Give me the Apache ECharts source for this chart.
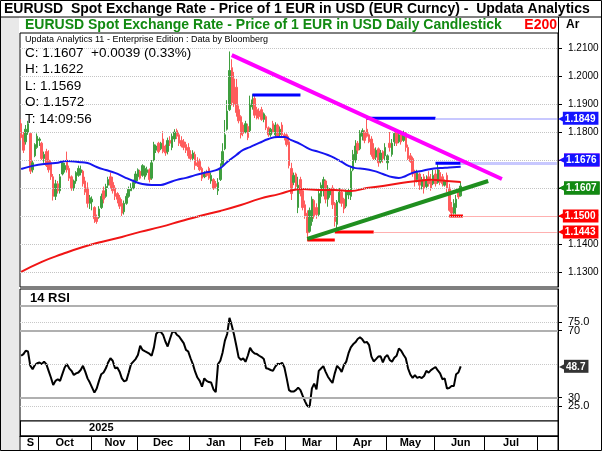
<!DOCTYPE html>
<html>
<head>
<meta charset="utf-8">
<title>EURUSD Daily Candlestick</title>
<script src="https://cdn.jsdelivr.net/npm/echarts@6.0.0/dist/echarts.min.js"></script>
<style>
html, body { margin: 0; padding: 0; background: #fff; }
#main { width: 602px; height: 451px; }
</style>
</head>
<body>
<div id="main"></div>
<script>
// trading days (weekdays) shown on the axis, Sep 19 2025 .. Aug 13 2026
let days = [];
for (let d = new Date(Date.UTC(2025, 8, 19)); d <= new Date(Date.UTC(2026, 7, 13)); d.setUTCDate(d.getUTCDate() + 1)) {
    let wd = d.getUTCDay();
    if (wd !== 0 && wd !== 6) days.push(d.toISOString().slice(0, 10));
}
const monthNames = {
    "2025-09": "S", "2025-10": "Oct", "2025-11": "Nov", "2025-12": "Dec",
    "2026-01": "Jan", "2026-02": "Feb", "2026-03": "Mar", "2026-04": "Apr",
    "2026-05": "May", "2026-06": "Jun", "2026-07": "Jul", "2026-08": ""
};
const yearNames = { "2025": "2025", "2026": "" };

// daily candles [open, close, low, high]
const candles = [
    [1.1830,1.1780,1.1770,1.1845],[1.1790,1.1735,1.1725,1.1800],[1.1765,1.1810,1.1755,1.1825],[1.1800,1.1830,1.1790,1.1840],
    [1.1795,1.1660,1.1650,1.1800],[1.1665,1.1690,1.1655,1.1700],[1.1715,1.1755,1.1710,1.1760],[1.1745,1.1785,1.1740,1.1795],
    [1.1770,1.1775,1.1750,1.1781],[1.1760,1.1705,1.1700,1.1765],[1.1705,1.1720,1.1690,1.1730],[1.1730,1.1680,1.1675,1.1740],
    [1.1700,1.1665,1.1655,1.1735],[1.1690,1.1640,1.1629,1.1700],[1.1640,1.1570,1.1555,1.1650],[1.1570,1.1615,1.1557,1.1629],
    [1.1615,1.1590,1.1580,1.1625],[1.1590,1.1640,1.1580,1.1650],[1.1650,1.1690,1.1645,1.1700],[1.1665,1.1680,1.1655,1.1690],
    [1.1700,1.1665,1.1655,1.1730],[1.1670,1.1635,1.1625,1.1680],[1.1640,1.1600,1.1590,1.1645],[1.1600,1.1625,1.1590,1.1630],
    [1.1625,1.1655,1.1615,1.1660],[1.1645,1.1670,1.1640,1.1680],[1.1655,1.1665,1.1645,1.1680],[1.1660,1.1615,1.1605,1.1665],
    [1.1625,1.1585,1.1575,1.1640],[1.1600,1.1545,1.1530,1.1620],[1.1545,1.1565,1.1525,1.1575],[1.1550,1.1560,1.1520,1.1570],
    [1.1530,1.1490,1.1475,1.1535],[1.1495,1.1480,1.1472,1.1505],[1.1495,1.1525,1.1490,1.1535],[1.1530,1.1570,1.1525,1.1580],
    [1.1590,1.1560,1.1545,1.1605],[1.1570,1.1605,1.1565,1.1615],[1.1610,1.1630,1.1600,1.1640],[1.1640,1.1610,1.1600,1.1655],
    [1.1620,1.1590,1.1580,1.1640],[1.1600,1.1570,1.1557,1.1610],[1.1580,1.1560,1.1545,1.1585],[1.1565,1.1535,1.1525,1.1575],
    [1.1545,1.1510,1.1500,1.1560],[1.1515,1.1545,1.1505,1.1555],[1.1545,1.1570,1.1540,1.1581],[1.1570,1.1595,1.1565,1.1605],
    [1.1590,1.1600,1.1590,1.1617],[1.1600,1.1620,1.1595,1.1630],[1.1625,1.1650,1.1615,1.1660],[1.1640,1.1665,1.1625,1.1670],
    [1.1660,1.1635,1.1630,1.1665],[1.1645,1.1680,1.1640,1.1685],[1.1640,1.1670,1.1630,1.1680],[1.1655,1.1665,1.1645,1.1676],
    [1.1665,1.1630,1.1620,1.1670],[1.1635,1.1690,1.1629,1.1700],[1.1700,1.1755,1.1695,1.1765],[1.1735,1.1750,1.1725,1.1755],
    [1.1760,1.1730,1.1724,1.1765],[1.1740,1.1760,1.1735,1.1765],[1.1775,1.1730,1.1724,1.1803],[1.1750,1.1725,1.1715,1.1755],
    [1.1730,1.1770,1.1720,1.1780],[1.1770,1.1760,1.1750,1.1785],[1.1745,1.1785,1.1735,1.1795],[1.1775,1.1800,1.1765,1.1810],
    [1.1805,1.1785,1.1775,1.1812],[1.1790,1.1760,1.1750,1.1800],[1.1770,1.1750,1.1745,1.1785],[1.1765,1.1745,1.1735,1.1775],
    [1.1755,1.1735,1.1725,1.1765],[1.1745,1.1715,1.1705,1.1760],[1.1720,1.1705,1.1695,1.1735],[1.1705,1.1725,1.1700,1.1735],
    [1.1720,1.1680,1.1665,1.1730],[1.1690,1.1680,1.1675,1.1710],[1.1695,1.1665,1.1660,1.1705],[1.1670,1.1635,1.1625,1.1676],
    [1.1640,1.1655,1.1635,1.1660],[1.1655,1.1645,1.1640,1.1665],[1.1670,1.1635,1.1629,1.1676],[1.1625,1.1645,1.1615,1.1655],
    [1.1630,1.1600,1.1593,1.1635],[1.1615,1.1605,1.1598,1.1625],[1.1590,1.1620,1.1575,1.1635],[1.1630,1.1670,1.1625,1.1688],
    [1.1680,1.1730,1.1676,1.1760],[1.1740,1.1790,1.1735,1.1843],[1.1810,1.1875,1.1805,1.1914],[1.1880,1.2020,1.1875,1.2088],
    [1.2030,1.1905,1.1895,1.2060],[1.1990,1.1900,1.1890,1.2015],[1.1960,1.1870,1.1855,1.1990],[1.1880,1.1840,1.1831,1.1895],
    [1.1855,1.1790,1.1777,1.1860],[1.1825,1.1795,1.1785,1.1835],[1.1800,1.1830,1.1795,1.1840],[1.1820,1.1780,1.1771,1.1830],
    [1.1805,1.1900,1.1800,1.1930],[1.1890,1.1915,1.1880,1.1935],[1.1920,1.1860,1.1850,1.1930],[1.1880,1.1850,1.1845,1.1890],
    [1.1875,1.1855,1.1845,1.1885],[1.1880,1.1845,1.1840,1.1890],[1.1845,1.1865,1.1835,1.1870],[1.1855,1.1815,1.1807,1.1860],
    [1.1815,1.1790,1.1783,1.1820],[1.1790,1.1810,1.1783,1.1815],[1.1830,1.1800,1.1795,1.1840],[1.1790,1.1825,1.1783,1.1835],
    [1.1825,1.1785,1.1780,1.1830],[1.1790,1.1810,1.1785,1.1820],[1.1825,1.1790,1.1783,1.1835],[1.1790,1.1780,1.1770,1.1800],
    [1.1790,1.1755,1.1748,1.1795],[1.1765,1.1680,1.1670,1.1785],[1.1670,1.1580,1.1557,1.1690],[1.1620,1.1645,1.1610,1.1655],
    [1.1650,1.1605,1.1595,1.1655],[1.1530,1.1610,1.1510,1.1640],[1.1630,1.1580,1.1570,1.1640],[1.1590,1.1530,1.1520,1.1600],
    [1.1540,1.1500,1.1490,1.1555],[1.1510,1.1440,1.1411,1.1520],[1.1445,1.1520,1.1440,1.1530],[1.1480,1.1560,1.1465,1.1570],
    [1.1555,1.1500,1.1490,1.1560],[1.1530,1.1505,1.1490,1.1545],[1.1505,1.1580,1.1498,1.1595],[1.1570,1.1610,1.1545,1.1620],
    [1.1590,1.1630,1.1570,1.1640],[1.1625,1.1560,1.1545,1.1630],[1.1560,1.1600,1.1533,1.1610],[1.1575,1.1590,1.1565,1.1600],
    [1.1600,1.1540,1.1525,1.1610],[1.1545,1.1480,1.1462,1.1550],[1.1470,1.1550,1.1443,1.1557],[1.1550,1.1585,1.1545,1.1600],
    [1.1585,1.1545,1.1533,1.1590],[1.1560,1.1525,1.1510,1.1565],[1.1535,1.1585,1.1528,1.1595],[1.1575,1.1590,1.1560,1.1600],
    [1.1570,1.1660,1.1557,1.1676],[1.1665,1.1720,1.1660,1.1736],[1.1700,1.1750,1.1690,1.1771],[1.1760,1.1735,1.1722,1.1768],
    [1.1740,1.1795,1.1735,1.1807],[1.1785,1.1805,1.1770,1.1813],[1.1800,1.1770,1.1760,1.1807],[1.1810,1.1785,1.1780,1.1849],
    [1.1790,1.1765,1.1760,1.1795],[1.1775,1.1720,1.1712,1.1785],[1.1740,1.1705,1.1700,1.1760],[1.1710,1.1735,1.1700,1.1745],
    [1.1740,1.1690,1.1676,1.1745],[1.1695,1.1725,1.1688,1.1736],[1.1730,1.1705,1.1690,1.1735],[1.1715,1.1745,1.1700,1.1760],
    [1.1690,1.1715,1.1665,1.1720],[1.1760,1.1745,1.1730,1.1800],[1.1720,1.1760,1.1712,1.1775],[1.1765,1.1795,1.1750,1.1810],
    [1.1800,1.1760,1.1750,1.1810],[1.1765,1.1790,1.1760,1.1800],[1.1795,1.1765,1.1755,1.1805],[1.1770,1.1795,1.1765,1.1805],
    [1.1795,1.1745,1.1730,1.1800],[1.1745,1.1705,1.1700,1.1755],[1.1715,1.1695,1.1690,1.1725],[1.1705,1.1650,1.1640,1.1712],
    [1.1660,1.1625,1.1605,1.1665],[1.1630,1.1655,1.1620,1.1665],[1.1650,1.1610,1.1593,1.1655],[1.1605,1.1630,1.1595,1.1640],
    [1.1640,1.1600,1.1580,1.1650],[1.1605,1.1630,1.1595,1.1645],[1.1640,1.1615,1.1605,1.1660],[1.1625,1.1600,1.1590,1.1650],
    [1.1615,1.1645,1.1610,1.1665],[1.1650,1.1615,1.1605,1.1665],[1.1620,1.1665,1.1615,1.1690],[1.1655,1.1620,1.1610,1.1665],
    [1.1640,1.1615,1.1605,1.1650],[1.1610,1.1625,1.1605,1.1630],[1.1645,1.1600,1.1585,1.1655],[1.1600,1.1520,1.1515,1.1615],
    [1.1530,1.1510,1.1500,1.1550],[1.1510,1.1545,1.1505,1.1560],[1.1530,1.1560,1.1505,1.1575],[1.1590,1.1568,1.1560,1.1600],
    [1.1572,1.1607,1.1569,1.1622]
];

// moving averages as [day index, value]
const maBlue = [
    [0,1.1668],[5,1.1679],[10,1.1686],[15,1.1689],[20,1.1696],[25,1.1693],[29,1.1689],[33,1.1675],[37,1.1664],
    [41,1.1654],[45,1.1639],[49,1.1625],[53,1.1614],[57,1.1611],[61,1.1611],[64,1.1618],[68,1.1629],[72,1.1636],
    [76,1.1646],[80,1.1654],[84,1.1661],[87,1.1671],[90,1.1693],[94,1.1718],[97,1.1736],[100,1.1746],[104,1.1761],
    [108,1.1775],[112,1.1782],[115,1.1782],[118,1.1771],[122,1.1757],[126,1.1739],[130,1.1729],[134,1.1718],
    [137,1.1707],[140,1.1693],[143,1.1679],[146,1.1671],[150,1.1668],[154,1.1661],[158,1.1650],[162,1.1639],
    [165,1.1636],[168,1.1643],[171,1.1654],[175,1.1661],[179,1.1668],[183,1.1671],[187,1.1673],[192,1.1676]
];
const ema200 = [
    [0,1.1300],[9,1.1336],[18,1.1364],[27,1.1389],[35,1.1407],[44,1.1425],[52,1.1443],[61,1.1461],[70,1.1482],
    [78,1.1500],[87,1.1518],[96,1.1539],[104,1.1561],[113,1.1579],[119,1.1593],[123,1.1596],[130,1.1593],
    [137,1.1593],[144,1.1589],[151,1.1600],[158,1.1607],[166,1.1618],[173,1.1625],[179,1.1629],[186,1.1625],[192,1.1621]
];

// 14 RSI, one value per day
const rsi = [
    55,56,58,57.5,49,47,49.5,50.5,51,50, 51.5,50,46,42,37.5,40,41,40,44,48,
    50,47.5,46,43.5,44.5,45,46.5,49,45.5,41.5, 39,36,33,35.5,40,44,45,47.5,51,53.5,
    52,47.5,48,45.5,41.5,39.7,40.3,45,50,51.5, 53,55.5,61,58.5,57.7,57,56.2,55,60,68,
    69.5,69.3,67.5,63.5,60.5,65,69,69.6,67.5,66.5, 64.5,62.5,58.5,57.5,53.5,50,45.5,42,40,36.5,
    41.5,40,39.3,39,35,33.3,50,52,57,64, 68,77.6,73,67.5,61,54,52.6,53.4,51.4,55,
    59.7,57.5,56.3,56,55,54.2,53,47.5,47.2,46.5, 46,48.5,50.2,50,50.8,48,41.5,34.5,33.6,33.6,
    34.5,36,34.5,31,27.8,25,24.5,35.5,38.4,35, 46,47.4,48.8,45.4,42.5,40.5,38.8,44.5,49,47.5,
    45.4,49.4,51.5,56.5,60,61.8,63,65,66,64.8, 62.8,63.3,61.3,54.5,51.6,53,54.5,54.7,51,54.3,
    55.4,52.5,51.4,53.8,55,59.3,58,55.6,53.5,47.5, 43.8,41.8,43.4,41.8,42.4,41.7,42.9,46,44.9,46.4,
    47.4,48.3,46.2,44.5,41,41.5,35.5,35.8,36.9,36.9, 44,45,48.7
];

// drawn trend lines and levels, [day index, price]
const resistance = [[92, 1.2075], [210, 1.1632]];
const support = [[125, 1.1418], [204, 1.1625]];
const highLevels = [[101, 122, 1.1932], [151, 181, 1.1849], [181, 192, 1.1688]];
const lowLevels = [[125, 137, 1.1414], [137, 154, 1.1443], [187, 193, 1.1500]];

const priceTicks = [1.13, 1.14, 1.15, 1.16, 1.17, 1.18, 1.19, 1.20, 1.21];
const rsiOuterTicks = [25, 75];
const rsiInnerTicks = [30, 70];

// month / year bands
let monthStart = {}, monthLabel = {}, yearStart = {}, yearLabel = {};
let mg = {}, yg = {};
days.forEach((d, i) => {
    (mg[d.slice(0, 7)] = mg[d.slice(0, 7)] || []).push(i);
    (yg[d.slice(0, 4)] = yg[d.slice(0, 4)] || []).push(i);
});
Object.keys(mg).forEach(k => {
    let g = mg[k];
    if (g[0] > 0) monthStart[g[0]] = true;
    monthLabel[g[Math.floor(g.length / 2)]] = monthNames[k];
});
Object.keys(yg).forEach(k => {
    let g = yg[k];
    if (g[0] > 0) yearStart[g[0]] = true;
    yearLabel[g[Math.floor(g.length / 2) - 2]] = yearNames[k];
});

const last = days.length - 1;
const font = "Liberation Sans";
const clear = "rgba(0,0,0,0)";

function tag(color, text) {
    return {
        show: true,
        position: "end",
        distance: 1,
        opacity: 1,
        formatter: "{a|\u25C0}{b|" + text + "}",
        rich: {
            a: { color: color, fontSize: 8, padding: [0, -1, 0, 0] },
            b: { backgroundColor: color, color: "#fff", fontSize: 10, fontWeight: "bold", fontFamily: font, padding: [2, 3, 1, 2] }
        }
    };
}
function extLine(from, v, lineColor, width, tagColor, text) {
    return [
        { coord: [from, v], lineStyle: { color: lineColor, width: width, type: "solid" }, label: tagColor ? tag(tagColor, text) : { show: false } },
        { coord: [last, v] }
    ];
}
function tagOnly(v, color, text) {
    return { yAxis: v, lineStyle: { color: clear, width: 1 }, label: tag(color, text) };
}

let dom = document.getElementById("main");
let myChart = echarts.init(dom, null, { renderer: "canvas" });

let levelSeries = [];
highLevels.forEach(l => levelSeries.push({
    type: "line", xAxisIndex: 0, yAxisIndex: 0, symbol: "none", z: 4,
    data: [[l[0], l[2]], [l[1], l[2]]],
    lineStyle: { color: "#0000ff", width: 3 }
}));
lowLevels.forEach(l => levelSeries.push({
    type: "line", xAxisIndex: 0, yAxisIndex: 0, symbol: "none", z: 4,
    data: [[l[0], l[2]], [l[1], l[2]]],
    lineStyle: { color: "#ff0000", width: 3 }
}));

const rsiAxisBase = {
    type: "value", gridIndex: 1, position: "right", min: 16.07, max: 94.82,
    splitLine: { show: false }
};

let option = {
    animation: false,
    textStyle: { fontFamily: font },
    grid: [
        { left: 20, right: 44, top: 33, height: 254, show: true, borderColor: "#000", borderWidth: 1, backgroundColor: "#fff" },
        { left: 20, right: 44, top: 289, height: 132, show: true, borderColor: "#000", borderWidth: 1, backgroundColor: "#fff" },
        { left: 20, right: 44, top: 421, height: 15, show: true, borderColor: "#000", borderWidth: 1, backgroundColor: "#fff" },
        { left: 20, right: 44, top: 436, height: 15, show: true, borderColor: "#000", borderWidth: 1, backgroundColor: "#fff" }
    ],
    xAxis: [
        { type: "category", gridIndex: 0, data: days, axisLine: { show: false }, axisTick: { show: false }, axisLabel: { show: false }, splitLine: { show: false } },
        { type: "category", gridIndex: 1, data: days, axisLine: { show: false }, axisTick: { show: false }, axisLabel: { show: false }, splitLine: { show: false } },
        {
            type: "category", gridIndex: 2, data: days, position: "bottom",
            axisLine: { show: true, lineStyle: { color: "#000" } },
            axisTick: { show: true, inside: true, length: 15, lineStyle: { color: "#000" }, interval: i => !!yearStart[i] },
            axisLabel: { show: true, inside: true, margin: 3, interval: i => yearLabel[i] !== undefined, formatter: (v, i) => yearLabel[i] || "", fontSize: 11, fontWeight: "bold", color: "#000", hideOverlap: false },
            splitLine: { show: false }
        },
        {
            type: "category", gridIndex: 3, data: days, position: "bottom",
            axisLine: { show: true, lineStyle: { color: "#000" } },
            axisTick: { show: true, inside: true, length: 15, lineStyle: { color: "#000" }, interval: i => !!monthStart[i] },
            axisLabel: { show: true, inside: true, margin: 3, interval: i => monthLabel[i] !== undefined, formatter: (v, i) => monthLabel[i] || "", fontSize: 11, fontWeight: "bold", color: "#000", hideOverlap: false },
            splitLine: { show: false }
        }
    ],
    yAxis: [
        {
            type: "value", gridIndex: 0, position: "right", min: 1.1246, max: 1.2154, scale: true,
            axisLine: { show: true, lineStyle: { color: "#000" } },
            axisTick: { show: true, length: 4, customValues: priceTicks, lineStyle: { color: "#000" } },
            axisLabel: { show: true, margin: 10, customValues: priceTicks, formatter: v => v.toFixed(4), fontSize: 10, color: "#000", hideOverlap: false },
            splitLine: { show: false }
        },
        Object.assign({}, rsiAxisBase, {
            axisLine: { show: true, lineStyle: { color: "#000" } },
            axisTick: { show: true, length: 4, customValues: rsiOuterTicks, lineStyle: { color: "#000" } },
            axisLabel: { show: true, margin: 10, customValues: rsiOuterTicks, formatter: v => v.toFixed(1), fontSize: 11, color: "#000", hideOverlap: false }
        }),
        { type: "value", gridIndex: 2, show: false },
        { type: "value", gridIndex: 3, show: false },
        Object.assign({}, rsiAxisBase, {
            axisLine: { show: false },
            axisTick: { show: true, length: 4, customValues: rsiInnerTicks, lineStyle: { color: "#000" } },
            axisLabel: { show: true, margin: 10, customValues: rsiInnerTicks, formatter: v => String(v), fontSize: 11, color: "#000", hideOverlap: false }
        })
    ],
    graphic: [
        { type: "rect", shape: { x: 0, y: 17, width: 19, height: 434 }, style: { fill: "#e9e9e9" }, z: -1 },
        { type: "line", shape: { x1: 0, y1: 17, x2: 602, y2: 17 }, style: { stroke: "#000", lineWidth: 1 } },
        { type: "line", shape: { x1: 558.5, y1: 17, x2: 558.5, y2: 33 }, style: { stroke: "#000", lineWidth: 1 } },
        { type: "rect", shape: { x: 0.5, y: 0.5, width: 601, height: 450 }, style: { fill: null, stroke: "#000", lineWidth: 1 } },
        { type: "text", x: 4, y: 9, style: { text: "EURUSD  Spot Exchange Rate - Price of 1 EUR in USD (EUR Curncy) -  Updata Analytics", font: "bold 14px " + font, fill: "#000", verticalAlign: "middle" } },
        { type: "text", x: 25, y: 25, style: { text: "EURUSD Spot Exchange Rate - Price of 1 EUR in USD Daily Candlestick", font: "bold 14px " + font, fill: "#128a12", verticalAlign: "middle" } },
        { type: "text", x: 557, y: 25, style: { text: "E200", font: "bold 14px " + font, fill: "#ff0000", align: "right", verticalAlign: "middle" } },
        { type: "text", x: 566, y: 25, style: { text: "Ar", font: "bold 12px " + font, fill: "#000", verticalAlign: "middle" } },
        { type: "text", x: 25, y: 40, z: 10, style: { text: "Updata Analytics 11 - Enterprise Edition : Data by Bloomberg", font: "9px " + font, fill: "#000", verticalAlign: "middle" } },
        { type: "text", x: 25, y: 53, z: 10, style: { text: "C: 1.1607  +0.0039 (0.33%)", font: "13.5px " + font, fill: "#000", verticalAlign: "middle" } },
        { type: "text", x: 25, y: 69.5, z: 10, style: { text: "H: 1.1622", font: "13.5px " + font, fill: "#000", verticalAlign: "middle" } },
        { type: "text", x: 25, y: 86, z: 10, style: { text: "L: 1.1569", font: "13.5px " + font, fill: "#000", verticalAlign: "middle" } },
        { type: "text", x: 25, y: 102.5, z: 10, style: { text: "O: 1.1572", font: "13.5px " + font, fill: "#000", verticalAlign: "middle" } },
        { type: "text", x: 25, y: 119, z: 10, style: { text: "T: 14:09:56", font: "13.5px " + font, fill: "#000", verticalAlign: "middle" } },
        { type: "text", x: 30, y: 298, z: 10, style: { text: "14 RSI", font: "bold 13px " + font, fill: "#000", verticalAlign: "middle" } }
    ],
    series: [
        {
            name: "grid",
            type: "line", xAxisIndex: 0, yAxisIndex: 0, data: [], z: 1, silent: true,
            markLine: {
                silent: true, symbol: "none",
                data: priceTicks.map(v => ({ yAxis: v, lineStyle: { color: "#c4c4c4", type: "dotted", width: 1 }, label: { show: false } }))
            }
        },
        {
            name: "EURUSD",
            type: "candlestick", xAxisIndex: 0, yAxisIndex: 0, z: 2,
            data: candles,
            barWidth: 2,
            itemStyle: { color: "#3f9f3f", color0: "#ff5c5c", borderColor: "#3f9f3f", borderColor0: "#ff5c5c", borderWidth: 1 }
        },
        { name: "MA", type: "line", xAxisIndex: 0, yAxisIndex: 0, data: maBlue, smooth: true, symbol: "none", z: 3, lineStyle: { color: "#1515f0", width: 2 } },
        { name: "E200", type: "line", xAxisIndex: 0, yAxisIndex: 0, data: ema200, smooth: true, symbol: "none", z: 3, lineStyle: { color: "#f01515", width: 2 } },
        { name: "resistance", type: "line", xAxisIndex: 0, yAxisIndex: 0, data: resistance, symbol: "none", z: 5, lineStyle: { color: "#ff00ff", width: 4 } },
        { name: "support", type: "line", xAxisIndex: 0, yAxisIndex: 0, data: support, symbol: "none", z: 5, lineStyle: { color: "#1f8f1f", width: 4 } },
        ...levelSeries,
        {
            name: "tags",
            type: "line", xAxisIndex: 0, yAxisIndex: 0, data: [], z: 6, silent: true,
            markLine: {
                silent: true, symbol: "none",
                data: [
                    extLine(highLevels[1][1], highLevels[1][2], "#c8c8ff", 2, "#1414ff", "1.1849"),
                    extLine(highLevels[2][1], highLevels[2][2], "#c8c8ff", 3, null, ""),
                    extLine(lowLevels[1][1], lowLevels[1][2], "#ffb0b0", 1, "#ff0000", "1.1443"),
                    extLine(lowLevels[2][1], lowLevels[2][2], "#ffb0b0", 1, "#ff0000", "1.1500"),
                    tagOnly(1.1703, "#ff00ff", "1.1703"),
                    tagOnly(maBlue[maBlue.length - 1][1], "#1414ff", "1.1676"),
                    tagOnly(1.1576, "#0a6a0a", "1.1590"),
                    tagOnly(candles[candles.length - 1][1], "#128a12", "1.1607")
                ]
            }
        },
        {
            name: "14 RSI",
            type: "line", xAxisIndex: 1, yAxisIndex: 1, data: rsi, symbol: "none", z: 3,
            lineStyle: { color: "#000", width: 2 },
            markLine: {
                silent: true, symbol: "none",
                data: [
                    { yAxis: 85, lineStyle: { color: "#b0b0b0", width: 2, type: "solid" }, label: { show: false } },
                    { yAxis: 70, lineStyle: { color: "#b0b0b0", width: 2, type: "solid" }, label: { show: false } },
                    { yAxis: 30, lineStyle: { color: "#b0b0b0", width: 2, type: "solid" }, label: { show: false } },
                    { yAxis: 75, lineStyle: { color: "#c8c8c8", width: 1, type: "dotted" }, label: { show: false } },
                    { yAxis: 50, lineStyle: { color: "#c8c8c8", width: 1, type: "dotted" }, label: { show: false } },
                    { yAxis: 25, lineStyle: { color: "#c8c8c8", width: 1, type: "dotted" }, label: { show: false } },
                    tagOnly(rsi[rsi.length - 1], "#333333", "48.7")
                ]
            }
        }
    ]
};

if (option && typeof option === "object") {
    myChart.setOption(option);
}

window.addEventListener("resize", myChart.resize);
</script>
</body>
</html>
